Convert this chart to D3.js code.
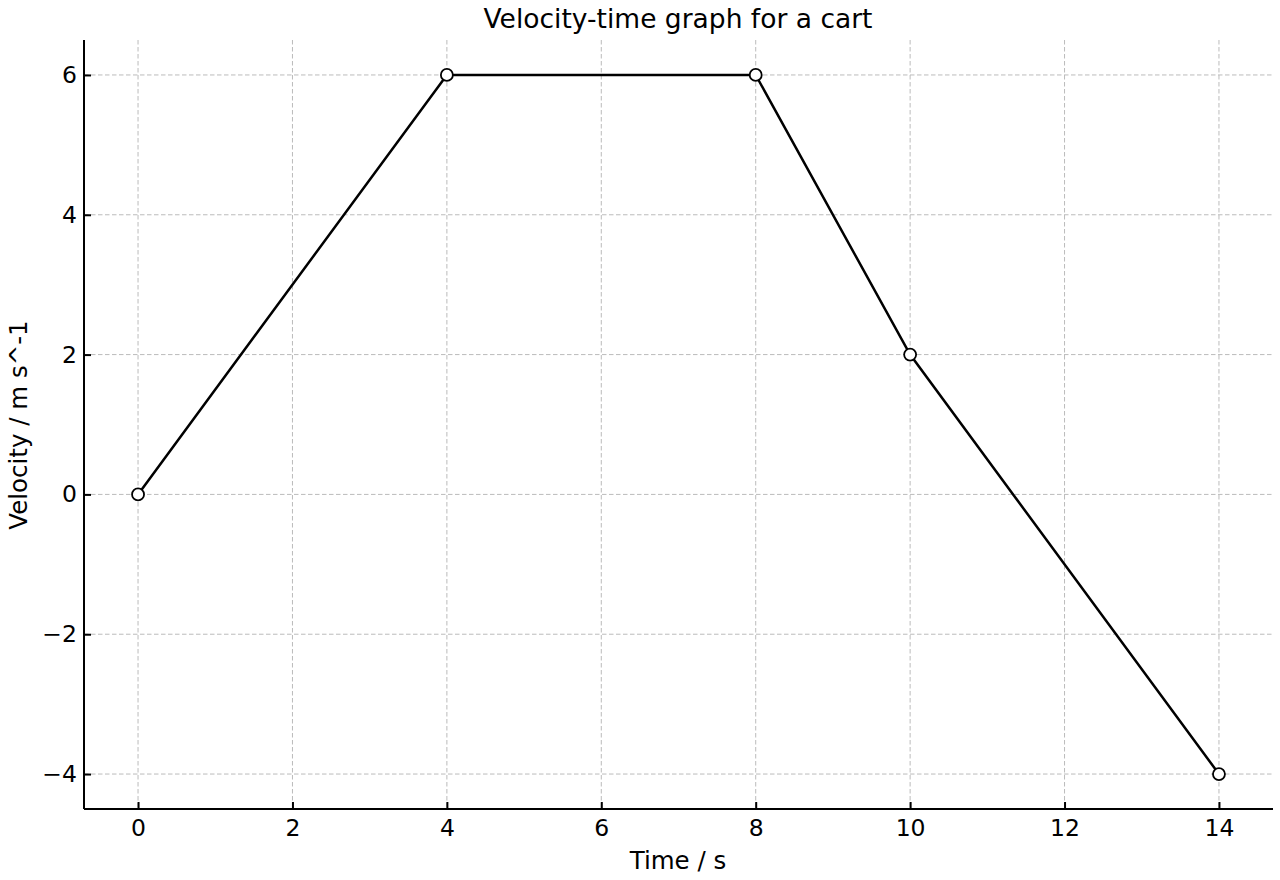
<!DOCTYPE html>
<html><head><meta charset="utf-8">
<script src="https://cdn.jsdelivr.net/npm/d3@7"></script>
<style>body{margin:0;background:#fff;} text{font-family:"DejaVu Sans",sans-serif;fill:#000;}</style>
</head><body>
<svg id="c" width="1280" height="880"></svg>
<script>
const times = [0, 4, 8, 10, 14];
const velocities = [0, 6, 6, 2, -4];
const xTicks = [0, 2, 4, 6, 8, 10, 12, 14];
const yTicks = [-4, -2, 0, 2, 4, 6];
const title = "Velocity-time graph for a cart";
const xLabel = "Time / s";
const yLabel = "Velocity / m s^-1";

const svg = d3.select("#c");
const L = 84, R = 1273, T = 40, B = 809;
const x = d3.scaleLinear().domain([-0.7, 14.7]).range([L, R]);
const y = d3.scaleLinear().domain([-4.5, 6.5]).range([B, T]);

// grid
const g = svg.append("g");
g.selectAll("line.gx").data(xTicks).join("line")
  .attr("x1", d => x(d)).attr("x2", d => x(d)).attr("y1", T).attr("y2", B)
  .attr("stroke", "#bbbbbb").attr("stroke-width", 1).attr("stroke-dasharray", "4.5,2.5");
g.selectAll("line.gy").data(yTicks).join("line")
  .attr("y1", d => y(d)).attr("y2", d => y(d)).attr("x1", L).attr("x2", R)
  .attr("stroke", "#bbbbbb").attr("stroke-width", 1).attr("stroke-dasharray", "4.5,2.5");

// axes
const fmt = d => d < 0 ? "\u2212" + Math.abs(d) : String(d);
const xa = svg.append("g").attr("transform", `translate(0,${B})`)
  .call(d3.axisBottom(x).tickValues(xTicks).tickFormat(fmt).tickSizeInner(-7).tickSizeOuter(0).tickPadding(10));
const ya = svg.append("g").attr("transform", `translate(${L},0)`)
  .call(d3.axisLeft(y).tickValues(yTicks).tickFormat(fmt).tickSizeInner(-7).tickSizeOuter(0).tickPadding(7));
[xa, ya].forEach(a => {
  a.select(".domain").attr("stroke", "#000").attr("stroke-width", 2);
  a.selectAll(".tick line").attr("stroke", "#000").attr("stroke-width", 2);
  a.selectAll(".tick text").attr("font-size", 23.5).attr("font-family", "DejaVu Sans").attr("fill", "#000");
});
xa.select(".domain").attr("d", `M${L},0H${R}`);
ya.select(".domain").attr("d", `M0,${B}V${T}`);

// line
const pts = times.map((t, i) => [t, velocities[i]]);
svg.append("path").datum(pts)
  .attr("d", d3.line().x(d => x(d[0])).y(d => y(d[1])))
  .attr("fill", "none").attr("stroke", "#000").attr("stroke-width", 2.5);
svg.selectAll("circle.m").data(pts).join("circle")
  .attr("cx", d => x(d[0])).attr("cy", d => y(d[1])).attr("r", 6)
  .attr("fill", "#fff").attr("stroke", "#000").attr("stroke-width", 1.8);

// labels
svg.append("text").attr("x", 678).attr("y", 28).attr("text-anchor", "middle")
  .attr("font-size", 26.5).text(title);
svg.append("text").attr("x", 678).attr("y", 869).attr("text-anchor", "middle")
  .attr("font-size", 24.5).text(xLabel);
svg.append("text").attr("transform", `translate(27,425) rotate(-90)`).attr("text-anchor", "middle")
  .attr("font-size", 24.5).text(yLabel);
</script>
</body></html>
